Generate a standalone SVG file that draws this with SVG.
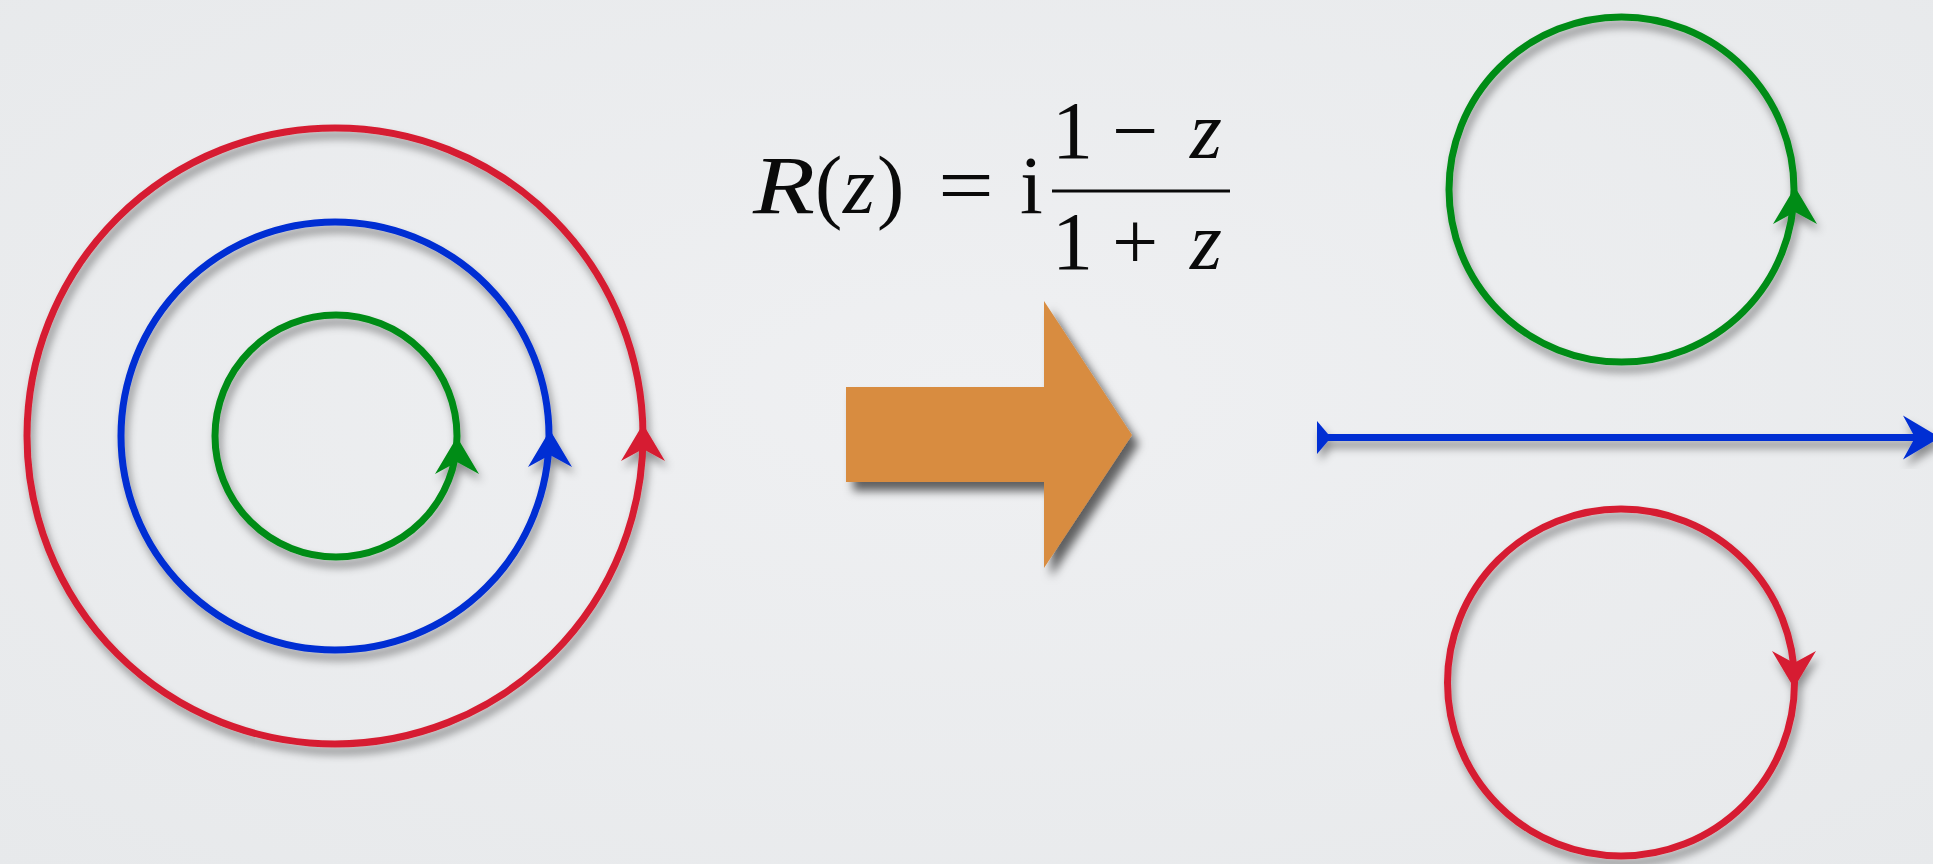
<svg xmlns="http://www.w3.org/2000/svg" xmlns:xlink="http://www.w3.org/1999/xlink" width="1933" height="864" viewBox="0 0 1933 864">
  <defs>
    <radialGradient id="bg" cx="50%" cy="45%" r="75%">
      <stop offset="0" stop-color="#EFF0F2"/>
      <stop offset="1" stop-color="#E7E9EB"/>
    </radialGradient>
    <filter id="sh" x="-20%" y="-20%" width="140%" height="140%">
      <feDropShadow dx="3" dy="7" stdDeviation="4.5" flood-color="#000" flood-opacity="0.4"/>
    </filter>
    <filter id="shBig" x="-20%" y="-20%" width="150%" height="150%">
      <feDropShadow dx="7" dy="9" stdDeviation="5" flood-color="#000" flood-opacity="0.6"/>
    </filter>
    <path id="ah" d="M0,0 L22,37 L0,25 L-22,37 Z"/>
    <style>
      .fred { fill: #D61F31; }
      .fblue { fill: #002ED3; }
      .fgreen { fill: #008C17; }
      .m { font-family: "Liberation Serif", "DejaVu Serif", serif; font-size: 82px; fill: #0A0A0A; }
      .it { font-style: italic; }
    </style>
  </defs>

  <rect width="1933" height="864" fill="url(#bg)"/>

  <g id="left-red-circle" filter="url(#sh)">
    <circle cx="335" cy="436" r="308" fill="none" stroke="#D61F31" stroke-width="7"/>
    <use xlink:href="#ah" transform="translate(643,424)" class="fred"/>
  </g>
  <g id="left-blue-circle" filter="url(#sh)">
    <circle cx="335" cy="436" r="214" fill="none" stroke="#002ED3" stroke-width="7"/>
    <use xlink:href="#ah" transform="translate(550,430)" class="fblue"/>
  </g>
  <g id="left-green-circle" filter="url(#sh)">
    <circle cx="336" cy="436" r="121" fill="none" stroke="#008C17" stroke-width="7"/>
    <use xlink:href="#ah" transform="translate(457,437)" class="fgreen"/>
  </g>

  <g id="formula">
    <text class="m it" x="753" y="213" textLength="62" lengthAdjust="spacingAndGlyphs">R</text>
    <text class="m" x="815" y="213">(</text>
    <text class="m it" x="843" y="213">z</text>
    <text class="m" x="877" y="213">)</text>
    <text class="m" x="938" y="213" textLength="56" lengthAdjust="spacingAndGlyphs">=</text>
    <text class="m" x="1020" y="213">i</text>
    <text class="m" x="1052" y="158">1</text>
    <text class="m" x="1112" y="158">−</text>
    <text class="m it" x="1190" y="158">z</text>
    <rect x="1052" y="189.5" width="178" height="3" fill="#0A0A0A"/>
    <text class="m" x="1052" y="269">1</text>
    <text class="m" x="1112" y="269">+</text>
    <text class="m it" x="1190" y="269">z</text>
  </g>

  <g id="right-green-circle" filter="url(#sh)">
    <circle cx="1621.5" cy="189.5" r="172.5" fill="none" stroke="#008C17" stroke-width="7"/>
    <use xlink:href="#ah" transform="translate(1795,187)" class="fgreen"/>
  </g>

  <g id="right-blue-line" filter="url(#sh)">
    <line x1="1322" y1="437.5" x2="1920" y2="437.5" stroke="#002ED3" stroke-width="7"/>
    <polygon points="1317,421 1331,437.5 1317,454" class="fblue"/>
    <use xlink:href="#ah" transform="translate(1940,437.5) rotate(90)" class="fblue"/>
  </g>

  <g id="right-red-circle" filter="url(#sh)">
    <circle cx="1621" cy="682.5" r="173.5" fill="none" stroke="#D61F31" stroke-width="7"/>
    <use xlink:href="#ah" transform="translate(1794,688) rotate(180)" class="fred"/>
  </g>

  <g id="connectors">
    <polygon points="846,387 1044,387 1044,301 1132,435 1044,568 1044,482 846,482" fill="#D88C40" filter="url(#shBig)"/>
  </g>
</svg>
